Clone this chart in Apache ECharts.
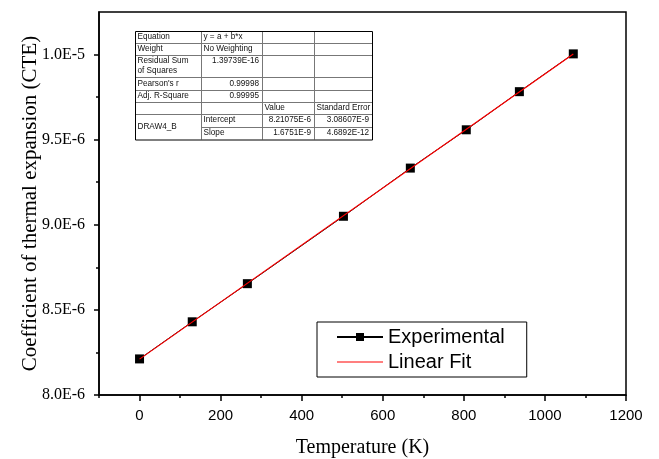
<!DOCTYPE html>
<html><head><meta charset="utf-8">
<script src="https://cdn.jsdelivr.net/npm/echarts@6/dist/echarts.min.js"></script>
<style>html,body{margin:0;padding:0;background:#fff}#c{width:659px;height:459px}</style>
</head><body><div id="c"></div>
<script>
// ---- data ----
const temperature = [0, 130, 266, 503, 668, 806, 937, 1070];
const cte = [8.212e-6, 8.430e-6, 8.654e-6, 9.050e-6, 9.333e-6, 9.558e-6, 9.782e-6, 10.004e-6];
const fitT = [0, 1070];
const fitCTE = [8.21075e-6, 1.00031e-5];
const xTicks = [0, 200, 400, 600, 800, 1000, 1200];
const xMinorTicks = [-100, 100, 300, 500, 700, 900, 1100];
const yTicks = [8.0e-6, 8.5e-6, 9.0e-6, 9.5e-6, 1.0e-5];
const yMinorTicks = [8.25e-6, 8.75e-6, 9.25e-6, 9.75e-6];
const seriesNames = ['Experimental', 'Linear Fit'];
const tableRows = [
  ['Equation', 'y = a + b*x', '', ''],
  ['Weight', 'No Weighting', '', ''],
  ['Residual Sum\nof Squares', '1.39739E-16', '', ''],
  ["Pearson's r", '0.99998', '', ''],
  ['Adj. R-Square', '0.99995', '', ''],
  ['', '', 'Value', 'Standard Error'],
  ['DRAW4_B', 'Intercept', '8.21075E-6', '3.08607E-9'],
  ['', 'Slope', '1.6751E-9', '4.6892E-12']
];

// ---- table graphic ----
const cols = [135, 201, 262, 314, 372];
const rowsY = [31, 43, 55, 77, 90, 101.5, 113.5, 126.5, 139.5];
const tbl = [];
const lineGray = '#777';
for (let i = 1; i < cols.length - 1; i++) {
  tbl.push({type: 'line', shape: {x1: cols[i] + 0.5, y1: rowsY[0], x2: cols[i] + 0.5, y2: rowsY[rowsY.length - 1]}, style: {stroke: lineGray, lineWidth: 1}});
}
for (let r = 1; r < rowsY.length - 1; r++) {
  const x1 = (r === 7) ? cols[1] : cols[0];
  tbl.push({type: 'line', shape: {x1: x1, y1: Math.round(rowsY[r]) + 0.5, x2: cols[4], y2: Math.round(rowsY[r]) + 0.5}, style: {stroke: lineGray, lineWidth: 1}});
}
tbl.push({type: 'rect', shape: {x: cols[0] + 0.5, y: rowsY[0] + 0.5, width: cols[4] - cols[0], height: rowsY[8] - rowsY[0]}, style: {fill: null, stroke: '#000', lineWidth: 1}, z: 10});
const isNum = s => /^[\d.]+(E-?\d+)?$/.test(s);
tableRows.forEach((row, r) => {
  row.forEach((txt, c) => {
    if (!txt) return;
    let y = (rowsY[r] + rowsY[r + 1]) / 2;
    if (r === 2 && c === 1) y = rowsY[r] + 5.5;
    if (r === 6 && c === 0) y = (rowsY[6] + rowsY[8]) / 2;
    const right = isNum(txt);
    tbl.push({type: 'text', x: right ? cols[c + 1] - 3 : cols[c] + 2.5, y: y,
      style: {text: txt, fill: '#111', font: '8.2px "Liberation Sans", Arial, sans-serif', align: right ? 'right' : 'left', verticalAlign: 'middle', lineHeight: 10}});
  });
});

const axisBlack = {color: '#000', width: 1.5};
const chart = echarts.init(document.getElementById('c'), null, {renderer: 'canvas'});
chart.setOption({
  backgroundColor: '#fff',
  animation: false,
  grid: {left: 99, right: 33, top: 12, bottom: 64, show: true, borderColor: '#000', borderWidth: 1.5, containLabel: false, outerBoundsMode: 'none'},
  xAxis: [
    {type: 'value', position: 'bottom', min: -100, max: 1200, interval: 100,
      axisLine: {onZero: false, lineStyle: axisBlack},
      axisTick: {customValues: xTicks, length: 6, lineStyle: axisBlack},
      axisLabel: {customValues: xTicks, fontFamily: '"Liberation Sans", Arial, sans-serif', fontSize: 15, color: '#000', margin: 13,
        formatter: v => String(v)},
      splitLine: {show: false},
      name: 'Temperature (K)', nameLocation: 'middle', nameGap: 43, nameMoveOverlap: false,
      nameTextStyle: {fontFamily: '"Liberation Serif", "Times New Roman", serif', fontSize: 20, color: '#000'}},
    {type: 'value', position: 'bottom', min: -100, max: 1200, interval: 100,
      axisLine: {show: false, onZero: false},
      axisTick: {customValues: xMinorTicks, length: 3, lineStyle: axisBlack},
      axisLabel: {show: false}, splitLine: {show: false}}
  ],
  yAxis: [
    {type: 'value', position: 'left', min: 8.0e-6, max: 1.025e-5, interval: 0.5e-6,
      axisLine: {onZero: false, lineStyle: axisBlack},
      axisTick: {customValues: yTicks, length: 5, lineStyle: axisBlack},
      axisLabel: {customValues: yTicks, fontFamily: '"Liberation Serif", "Times New Roman", serif', fontSize: 16, color: '#000', margin: 14,
        formatter: v => v.toExponential(1).toUpperCase().replace('+', '')},
      splitLine: {show: false},
      name: 'Coefficient of thermal expansion (CTE)', nameLocation: 'middle', nameGap: 58, nameMoveOverlap: false,
      nameTextStyle: {fontFamily: '"Liberation Serif", "Times New Roman", serif', fontSize: 21, color: '#000'}},
    {type: 'value', position: 'left', min: 8.0e-6, max: 1.025e-5, interval: 0.5e-6,
      axisLine: {show: false, onZero: false},
      axisTick: {customValues: yMinorTicks, length: 3, lineStyle: axisBlack},
      axisLabel: {show: false}, splitLine: {show: false}}
  ],
  legend: {orient: 'vertical', left: 317, top: 322,
    data: [{name: seriesNames[0]}, {name: seriesNames[1], icon: 'path://M0,0 L46,0 L46,1.2 L0,1.2 Z', itemStyle: {color: '#ff0000'}}],
    itemWidth: 46, itemHeight: 10, itemGap: 5,
    padding: [5, 22, 5, 19], borderColor: '#000', borderWidth: 1, borderRadius: 0, backgroundColor: '#fff',
    selectedMode: false, textStyle: {fontFamily: '"Liberation Sans", Arial, sans-serif', fontSize: 20, color: '#000'}},
  series: [
    {type: 'line', name: seriesNames[0], xAxisIndex: 0, yAxisIndex: 0,
      data: temperature.map((t, i) => [t, cte[i]]), symbol: 'rect', symbolSize: 9,
      itemStyle: {color: '#000'}, lineStyle: {color: '#000', width: 1}, z: 2},
    {type: 'line', name: seriesNames[1], xAxisIndex: 0, yAxisIndex: 0,
      data: fitT.map((t, i) => [t, fitCTE[i]]), symbol: 'none', showSymbol: false,
      itemStyle: {color: '#ff0000'}, lineStyle: {color: '#ff0000', width: 1.2}, z: 3}
  ],
  graphic: [{type: 'group', children: tbl, z: 100}]
});
</script></body></html>
